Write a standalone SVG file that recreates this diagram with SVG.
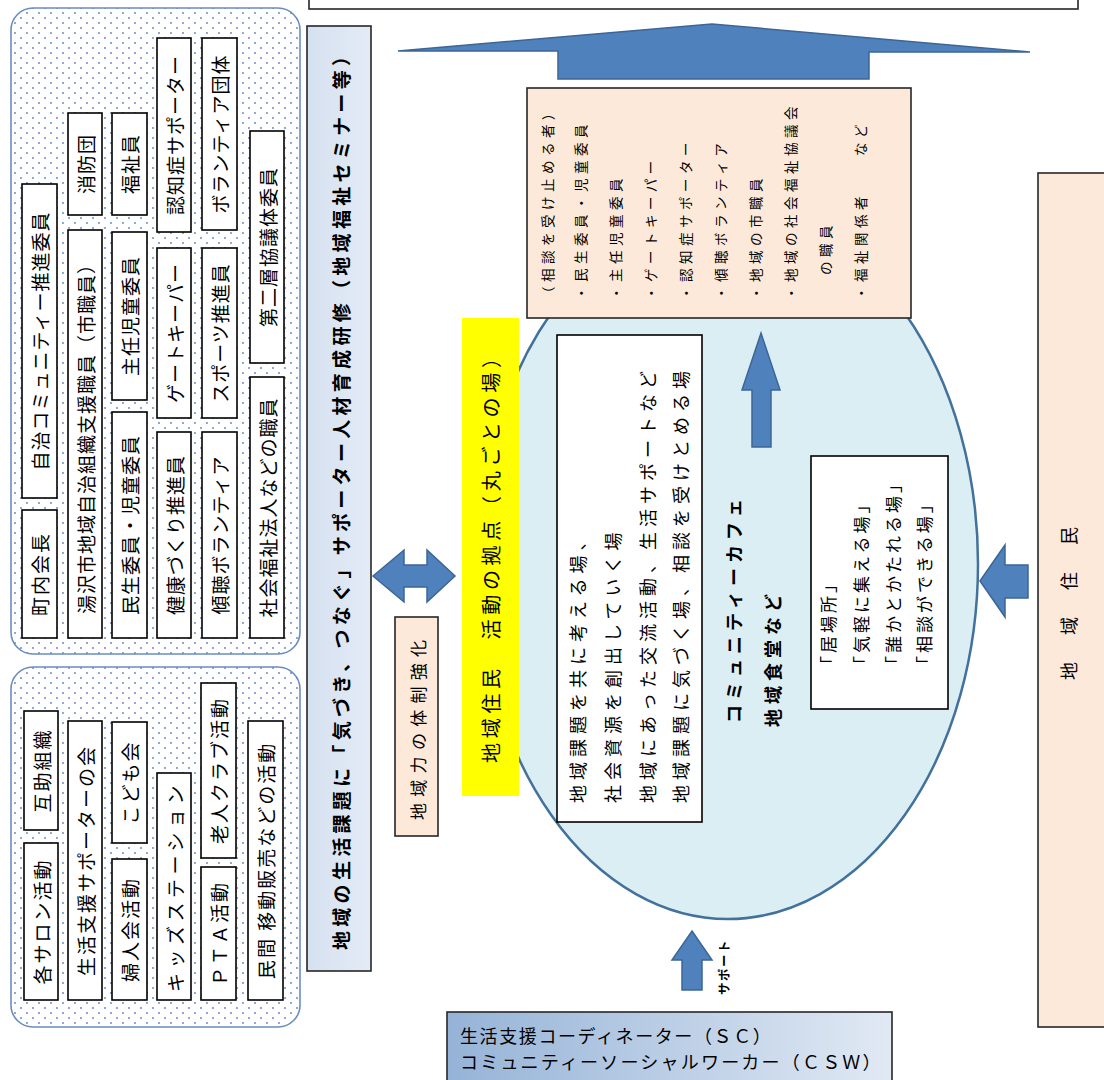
<svg xmlns="http://www.w3.org/2000/svg" width="1104" height="1080" viewBox="0 0 1104 1080">
<defs>
<pattern id="dots" width="12" height="10" patternUnits="userSpaceOnUse">
<rect width="12" height="10" fill="#ffffff"/>
<circle cx="3" cy="3" r="0.9" fill="#5b7fc0"/>
<circle cx="9" cy="8" r="0.9" fill="#5b7fc0"/>
</pattern>
<linearGradient id="scgrad" x1="0" y1="0" x2="1" y2="0">
<stop offset="0" stop-color="#95b3d7"/>
<stop offset="1" stop-color="#e1e9f4"/>
</linearGradient>
<linearGradient id="bggrad" x1="0" y1="0" x2="1" y2="0">
<stop offset="0" stop-color="#d6e1f0"/>
<stop offset="1" stop-color="#e3ebf6"/>
</linearGradient>
</defs>
<style>
text{font-family:"Noto Sans CJK JP","Noto Sans CJK SC",sans-serif;fill:#000}
.r{dominant-baseline:central;text-anchor:middle}
.s{dominant-baseline:central;text-anchor:start}
.lbl{font-size:19px;letter-spacing:1px}
.lbl2{font-size:19px;letter-spacing:2px}
.box{fill:#ffffff;stroke:#000;stroke-width:1.6}
.grp{fill:url(#dots);stroke:#6b8cc0;stroke-width:1.6}
.org{fill:#fde9d9;stroke:#262626;stroke-width:1.6}
.arr{fill:#4f81bd;stroke:#3d6596;stroke-width:1.5}
.sm{font-size:13.5px;letter-spacing:4.5px}
.mid{font-size:18px;letter-spacing:5px}
.b{font-weight:700}
</style>

<!-- top frame -->
<g id="top-frame"><rect x="309" y="-10" width="769" height="19" fill="#ffffff" stroke="#262626" stroke-width="1.6"/></g>

<!-- top-left group -->
<g id="group-roles">
<rect class="grp" x="11" y="8" width="289" height="646" rx="22"/>
<g id="n-jichi"><rect class="box" x="22" y="184" width="35" height="314"/><text class="r lbl" transform="translate(39.5,341) rotate(-90)">自治コミュニティー推進委員</text></g>
<g id="n-chonai"><rect class="box" x="22" y="510" width="35" height="128"/><text class="r lbl2" transform="translate(39.5,574) rotate(-90)">町内会長</text></g>
<g id="n-shobo"><rect class="box" x="68" y="113" width="34" height="102"/><text class="r lbl" transform="translate(85,164) rotate(-90)">消防団</text></g>
<g id="n-shiin"><rect class="box" x="68" y="230" width="34" height="408"/><text class="r lbl" transform="translate(85,434) rotate(-90)">湯沢市地域自治組織支援職員（市職員）</text></g>
<g id="n-fukushi"><rect class="box" x="112" y="113" width="35" height="102"/><text class="r lbl" transform="translate(129.5,164) rotate(-90)">福祉員</text></g>
<g id="n-shunin"><rect class="box" x="112" y="232" width="35" height="168"/><text class="r lbl" transform="translate(129.5,316) rotate(-90)">主任児童委員</text></g>
<g id="n-minsei"><rect class="box" x="112" y="412" width="35" height="226"/><text class="r lbl" transform="translate(129.5,525) rotate(-90)">民生委員・児童委員</text></g>
<g id="n-ninchi"><rect class="box" x="157" y="38" width="34" height="194"/><text class="r lbl" transform="translate(174,135) rotate(-90)">認知症サポーター</text></g>
<g id="n-gate"><rect class="box" x="157" y="248" width="34" height="170"/><text class="r lbl" transform="translate(174,333) rotate(-90)">ゲートキーパー</text></g>
<g id="n-kenko"><rect class="box" x="157" y="432" width="34" height="206"/><text class="r lbl" transform="translate(174,535) rotate(-90)">健康づくり推進員</text></g>
<g id="n-vol"><rect class="box" x="202" y="38" width="35" height="192"/><text class="r lbl" transform="translate(219.5,134) rotate(-90)">ボランティア団体</text></g>
<g id="n-sports"><rect class="box" x="202" y="248" width="35" height="170"/><text class="r lbl" transform="translate(219.5,333) rotate(-90)">スポーツ推進員</text></g>
<g id="n-keicho"><rect class="box" x="202" y="432" width="35" height="206"/><text class="r lbl" transform="translate(219.5,535) rotate(-90)">傾聴ボランティア</text></g>
<g id="n-daini"><rect class="box" x="250" y="131" width="34" height="232"/><text class="r lbl" transform="translate(267,247) rotate(-90)">第二層協議体委員</text></g>
<g id="n-shafuku"><rect class="box" x="250" y="377" width="34" height="261"/><text class="r lbl" transform="translate(267,507.5) rotate(-90)">社会福祉法人などの職員</text></g>
</g>

<!-- bottom-left group -->
<g id="group-activities">
<rect class="grp" x="11" y="667" width="289" height="360" rx="22"/>
<g id="n-gojo"><rect class="box" x="24" y="711" width="34" height="119"/><text class="r lbl2" transform="translate(41,770.5) rotate(-90)">互助組織</text></g>
<g id="n-salon"><rect class="box" x="24" y="843" width="34" height="157"/><text class="r lbl2" transform="translate(41,921.5) rotate(-90)">各サロン活動</text></g>
<g id="n-seikatsu"><rect class="box" x="68" y="721" width="34" height="279"/><text class="r lbl2" transform="translate(85,860.5) rotate(-90)">生活支援サポーターの会</text></g>
<g id="n-kodomo"><rect class="box" x="112" y="722" width="35" height="121"/><text class="r lbl2" transform="translate(129.5,782.5) rotate(-90)">こども会</text></g>
<g id="n-fujin"><rect class="box" x="112" y="859" width="35" height="141"/><text class="r lbl2" transform="translate(129.5,929.5) rotate(-90)">婦人会活動</text></g>
<g id="n-kids"><rect class="box" x="157" y="773" width="34" height="227"/><text class="r" style="font-size:19px;letter-spacing:4.5px" transform="translate(174,886.5) rotate(-90)">キッズステーション</text></g>
<g id="n-rojin"><rect class="box" x="201" y="683" width="35" height="175"/><text class="r lbl2" transform="translate(218.5,770.5) rotate(-90)">老人クラブ活動</text></g>
<g id="n-pta"><rect class="box" x="201" y="867" width="35" height="133"/><text class="r lbl2" transform="translate(218.5,933.5) rotate(-90)">ＰＴＡ活動</text></g>
<g id="n-minkan"><rect class="box" x="248" y="721" width="35" height="279"/><text class="r lbl2" transform="translate(265.5,860.5) rotate(-90)">民間 移動販売などの活動</text></g>
</g>

<!-- training box -->
<g id="n-training">
<rect x="307" y="26" width="64" height="945" fill="url(#bggrad)" stroke="#262626" stroke-width="1.6"/>
<text class="s b" style="font-size:19px" transform="translate(340,950) rotate(-90)" textLength="903" lengthAdjust="spacing">地域の生活課題に「気づき、つなぐ」サポーター人材育成研修（地域福祉セミナー等）</text>
</g>

<!-- community ellipse -->
<g id="n-community">
<ellipse cx="728" cy="564" rx="250" ry="355" fill="#dbeef4" stroke="#41719c" stroke-width="2.5"/>
<text class="s b mid" transform="translate(733,723) rotate(-90)">コミュニティーカフェ</text>
<text class="s b mid" transform="translate(772,727) rotate(-90)">地域食堂など</text>
</g>

<!-- activity text box -->
<g id="n-places">
<rect class="box" x="557" y="335" width="145" height="487"/>
<text class="s mid" transform="translate(577,803) rotate(-90)">地域課題を共に考える場、</text>
<text class="s mid" transform="translate(612,803) rotate(-90)">社会資源を創出していく場</text>
<text class="s mid" transform="translate(647,803) rotate(-90)">地域にあった交流活動、生活サポートなど</text>
<text class="s mid" transform="translate(680,803) rotate(-90)">地域課題に気づく場、相談を受けとめる場</text>
</g>

<!-- ibasho box -->
<g id="n-ibasho">
<rect class="box" x="811" y="456" width="137" height="253"/>
<text class="s" style="font-size:17px;letter-spacing:3px" transform="translate(827,673) rotate(-90)">「居場所」</text>
<text class="s" style="font-size:17px;letter-spacing:3px" transform="translate(860,673) rotate(-90)">「気軽に集える場」</text>
<text class="s" style="font-size:17px;letter-spacing:3px" transform="translate(892,673) rotate(-90)">「誰かとかたれる場」</text>
<text class="s" style="font-size:17px;letter-spacing:3px" transform="translate(923,673) rotate(-90)">「相談ができる場」</text>
</g>

<!-- yellow hub -->
<g id="n-hub">
<rect x="462" y="318" width="57" height="478" fill="#ffff00"/>
<text class="s" style="font-size:20px;letter-spacing:4.7px" transform="translate(490,763) rotate(-90)">地域住民　活動の拠点（丸ごとの場）</text>
</g>

<!-- consultation box -->
<g id="n-consult">
<rect class="org" x="527" y="88" width="384" height="230"/>
<text class="s sm" transform="translate(547,300) rotate(-90)">（相談を受け止める者）</text>
<text class="s sm" transform="translate(580,300) rotate(-90)">・民生委員・児童委員</text>
<text class="s sm" transform="translate(615,300) rotate(-90)">・主任児童委員</text>
<text class="s sm" transform="translate(650,300) rotate(-90)">・ゲートキーパー</text>
<text class="s sm" transform="translate(685,300) rotate(-90)">・認知症サポーター</text>
<text class="s sm" transform="translate(720,300) rotate(-90)">・傾聴ボランティア</text>
<text class="s sm" transform="translate(755,300) rotate(-90)">・地域の市職員</text>
<text class="s sm" transform="translate(790,300) rotate(-90)">・地域の社会福祉協議会</text>
<text class="s sm" transform="translate(825,275) rotate(-90)">の職員</text>
<text class="s sm" transform="translate(860,300) rotate(-90)">・福祉関係者　　など</text>
</g>

<!-- strengthening box -->
<g id="n-strength">
<rect class="org" x="395" y="617" width="43" height="219"/>
<text class="s" style="font-size:17px;letter-spacing:6.3px" transform="translate(417,820) rotate(-90)">地域力の体制強化</text>
</g>

<!-- residents box -->
<g id="n-residents">
<rect class="org" x="1038" y="173" width="70" height="854"/>
<text class="s" style="font-size:18px;letter-spacing:4.5px" transform="translate(1068,680) rotate(-90)">地　域　住　民</text>
</g>

<!-- SC / CSW box -->
<g id="n-sc">
<rect x="447" y="1012" width="445" height="80" fill="url(#scgrad)" stroke="#262626" stroke-width="1.6"/>
<text style="font-size:18px;letter-spacing:1.6px" x="460" y="1043">生活支援コーディネーター（ＳＣ）</text>
<text style="font-size:18px;letter-spacing:2.2px" x="460" y="1069">コミュニティーソーシャルワーカー（ＣＳＷ）</text>
</g>

<!-- connectors -->
<g id="connectors">
<polygon class="arr" points="398,51 712,24 1030,52 869,52 869,79 558,79 558,51"/>
<polygon class="arr" points="761,333 780,390 771,390 771,447 752,447 752,390 742,390"/>
<polygon class="arr" points="980,581 1005,545 1005,565 1028,565 1028,598 1005,598 1005,617"/>
<polygon class="arr" points="692,931 712,960 702,960 702,990 682,990 682,960 672,960"/>
<polygon class="arr" points="373,576 404,550 404,565 427,565 427,550 455,576 427,602 427,587 404,587 404,602"/>
<text class="s b" style="font-size:12.5px;letter-spacing:1.5px" transform="translate(723,995) rotate(-90)">サポート</text>
</g>
</svg>
